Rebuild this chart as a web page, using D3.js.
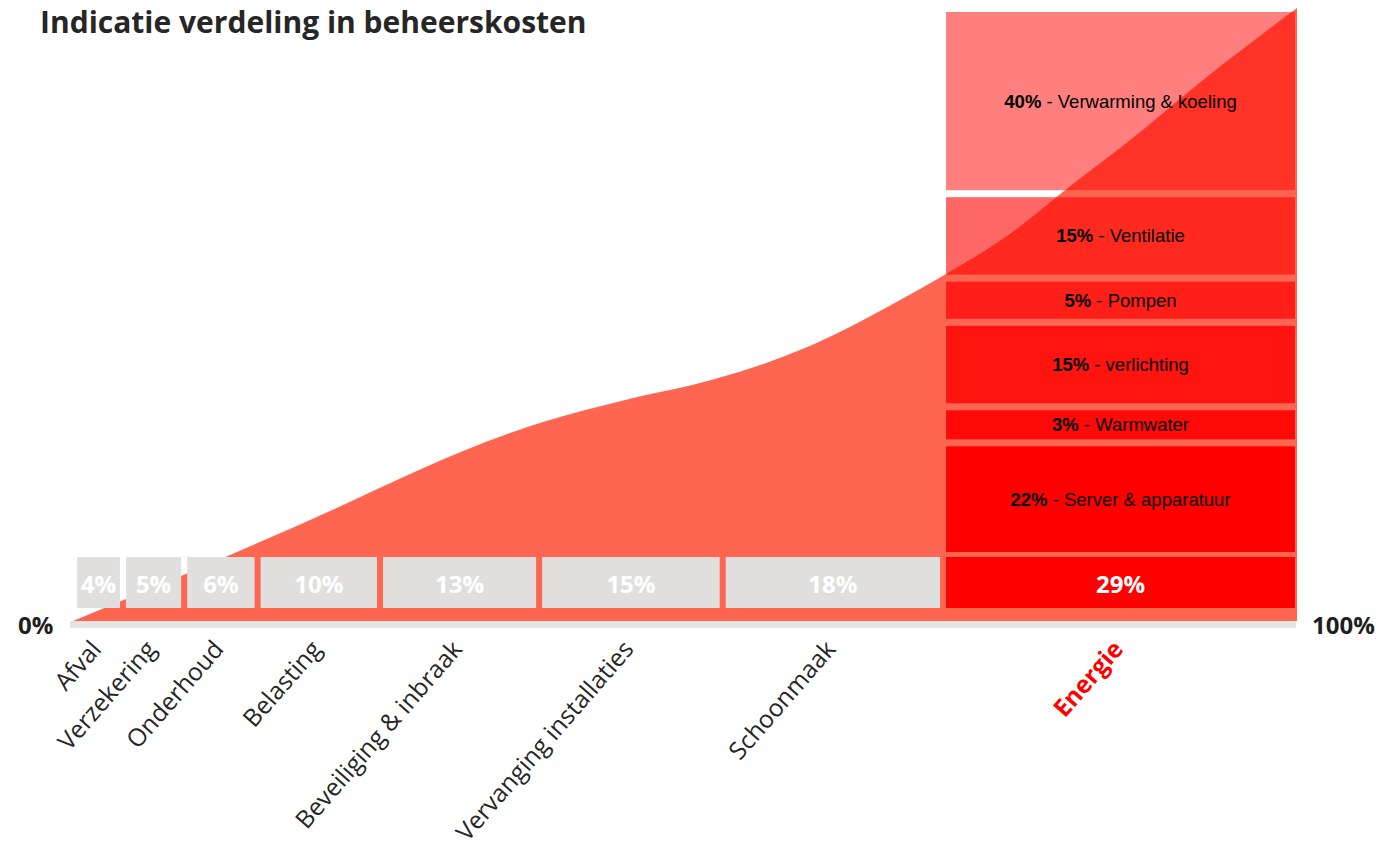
<!DOCTYPE html>
<html>
<head>
<meta charset="utf-8">
<script src="https://cdn.jsdelivr.net/npm/d3@7"></script>
<style>
  body { margin: 0; background: #fff; }
  svg { display: block; }
</style>
</head>
<body>
<svg id="chart" width="1384" height="851"></svg>
<script>
// cost categories and their share (%), left to right
const categories = ["Afval", "Verzekering", "Onderhoud", "Belasting", "Beveiliging & inbraak",
  "Vervanging installaties", "Schoonmaak", "Energie"];
const shares = [4, 5, 6, 10, 13, 15, 18, 29];

// breakdown of the energy share, top to bottom
const energyParts = ["Verwarming & koeling", "Ventilatie", "Pompen", "verlichting", "Warmwater", "Server & apparatuur"];
const energyShares = [40, 15, 5, 15, 3, 22];

// the cumulative curve behind the bars (x: % of axis, y: % of height)
const curveX = [0, 12.4, 21.5, 27.0, 33.7, 38.6, 44.8, 52.5, 59.4, 63.5, 67.6, 70.8, 76.3, 81.9, 86.4, 92.6, 100];
const curveY = [0, 10.4, 18.4, 23.5, 29.2, 32.6, 35.9, 39.5, 44.2, 48.0, 52.4, 56.0, 62.8, 71.6, 78.5, 88.7, 100];

const width = 1384, height = 851;
const svg = d3.select("#chart");

const x = d3.scaleLinear().domain([0, 100]).range([73, 1297]);
const y = d3.scaleLinear().domain([0, 100]).range([621, 8]);

const barTop = 557, barBottom = 608;
const gap = 7;

// area
const area = d3.area()
  .x((d) => x(d[0]))
  .y0(y(0))
  .y1((d) => y(d[1]))
  .curve(d3.curveMonotoneX);

svg.append("path")
  .datum(d3.zip(curveX, curveY))
  .attr("fill", "#ff6651")
  .attr("d", area);

// baseline
svg.append("rect")
  .attr("x", x(0) - 3)
  .attr("y", y(0))
  .attr("width", x(100) - x(0) + 2)
  .attr("height", 7)
  .attr("fill", "#e4e4e4");

// category bars, width = share of total
const cum = d3.cumsum(shares);
const bars = categories.map((c, i) => ({
  name: c,
  value: shares[i],
  x0: x(i === 0 ? 0 : cum[i - 1]) + 4,
  x1: x(cum[i]) - 2,
  energy: c === "Energie",
}));

svg.append("g")
  .selectAll("rect")
  .data(bars)
  .join("rect")
  .attr("x", (d) => d.x0)
  .attr("y", barTop)
  .attr("width", (d) => d.x1 - d.x0)
  .attr("height", barBottom - barTop)
  .attr("fill", (d) => (d.energy ? "#ff0000" : "#e0dfdd"));

svg.append("g")
  .selectAll("text")
  .data(bars)
  .join("text")
  .attr("x", (d) => (d.x0 + d.x1) / 2)
  .attr("y", 593)
  .attr("text-anchor", "middle")
  .attr("font-family", "'Open Sans', sans-serif")
  .attr("font-weight", 700)
  .attr("font-size", 24)
  .attr("fill", "#fff")
  .text((d) => d.value + "%");

// energy breakdown stack (stacked upward from just above the energy bar)
const energy = bars[bars.length - 1];
const stackBottom = barTop - 5, stackTop = 12;
const minSeg = 17;
const avail = stackBottom - stackTop - gap * (energyShares.length - 1);
const h = d3.scaleLinear()
  .domain([0, d3.sum(energyShares)])
  .range([minSeg, minSeg + avail - minSeg * energyShares.length]);
const alpha = d3.scaleLinear().domain([0, energyShares.length - 1]).range([0.5, 1]);

let yCursor = stackBottom;
const segs = [];
for (let i = energyShares.length - 1; i >= 0; i--) {
  const hh = h(energyShares[i]);
  segs.push({ name: energyParts[i], value: energyShares[i], i, y0: yCursor - hh, y1: yCursor });
  yCursor -= hh + gap;
}

svg.append("g")
  .selectAll("rect")
  .data(segs)
  .join("rect")
  .attr("x", energy.x0)
  .attr("y", (d) => d.y0)
  .attr("width", energy.x1 - energy.x0)
  .attr("height", (d) => d.y1 - d.y0)
  .attr("fill", "#ff0000")
  .attr("fill-opacity", (d) => alpha(d.i));

const segLabel = svg.append("g")
  .selectAll("text")
  .data(segs)
  .join("text")
  .attr("x", (energy.x0 + energy.x1) / 2)
  .attr("y", (d) => (d.y0 + d.y1) / 2)
  .attr("dy", "0.35em")
  .attr("text-anchor", "middle")
  .attr("font-family", "'Liberation Sans', Arial, sans-serif")
  .attr("font-size", 18.5)
  .attr("fill", "#000");
segLabel.append("tspan").attr("font-weight", 700).text((d) => d.value + "%");
segLabel.append("tspan").text((d) => " - " + d.name);

// 0% / 100%
svg.append("text")
  .attr("x", 18).attr("y", 634)
  .attr("font-family", "'Open Sans', sans-serif")
  .attr("font-weight", 700).attr("font-size", 24).attr("fill", "#1e1e1e")
  .text("0%");
svg.append("text")
  .attr("x", 1312).attr("y", 634)
  .attr("font-family", "'Open Sans', sans-serif")
  .attr("font-weight", 700).attr("font-size", 24).attr("fill", "#1e1e1e")
  .text("100%");

// rotated category labels
svg.append("g")
  .selectAll("text")
  .data(bars)
  .join("text")
  .attr("transform", (d) => `translate(${(d.x0 + d.x1) / 2 + 4},650) rotate(-49)`)
  .attr("text-anchor", "end")
  .attr("font-family", "'Open Sans', sans-serif")
  .attr("font-size", 24.5)
  .attr("font-weight", (d) => (d.energy ? 700 : 400))
  .attr("fill", (d) => (d.energy ? "#ff0000" : "#262626"))
  .text((d) => d.name);

// title
svg.append("text")
  .attr("x", 40).attr("y", 32.5)
  .attr("font-family", "'Open Sans', sans-serif")
  .attr("font-weight", 700)
  .attr("font-size", 30)
  .attr("fill", "#262626")
  .text("Indicatie verdeling in beheerskosten");
</script>
</body>
</html>
